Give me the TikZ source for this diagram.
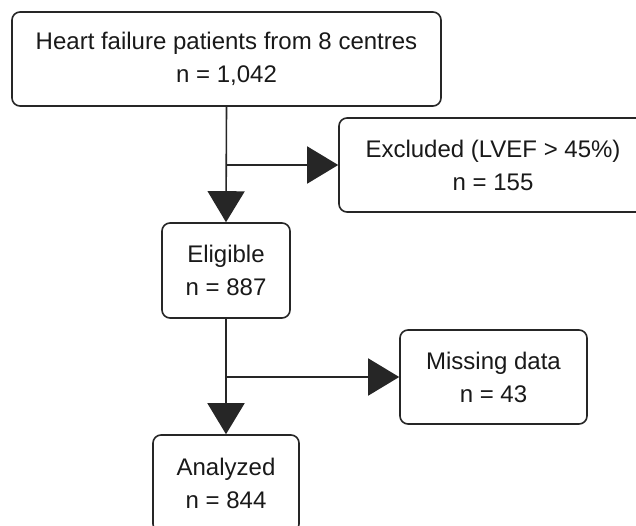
\documentclass[tikz,border=0pt]{standalone}
\usepackage{fontspec}
\setmainfont{Liberation Sans}
\usetikzlibrary{arrows.meta}

\tikzset{
  flowbox/.style={draw=black!85, line width=1.6pt, rounded corners=8pt, fill=white,
    inner sep=0pt, align=center, text=black!90,
    font=\fontsize{24}{33}\selectfont},
  flowarrow/.style={draw=black!85, line width=1.6pt,
    -{Triangle[length=31pt, width=37pt]}},
}

\begin{document}
\begin{tikzpicture}[x=1pt, y=-1pt]
  \useasboundingbox (0,0) rectangle (636,525);
  \clip (0,0) rectangle (636,525);
  \fill[white] (0,0) rectangle (636,525);

  % boxes of the flow chart
  \node[flowbox, minimum width=429pt, minimum height=94pt] (top) at (226.5,59)
    {Heart failure patients from 8 centres\\n = 1,042};
  \node[flowbox, minimum width=308pt, minimum height=94pt] (excl) at (493,165)
    {Excluded (LVEF > 45\%)\\n = 155};
  \node[flowbox, minimum width=128pt, minimum height=95pt] (elig) at (226,270.5)
    {Eligible\\n = 887};
  \node[flowbox, minimum width=187pt, minimum height=94pt] (miss) at (493.5,377)
    {Missing data\\n = 43};
  \node[flowbox, minimum width=146pt, minimum height=97pt] (anal) at (226,483.5)
    {Analyzed\\n = 844};

  % branch points on the main line
  \coordinate (j1) at (226,165);
  \coordinate (j2) at (226,377);

  % connectors
  \draw[flowarrow] (top.south) -- (elig.north);
  \draw[flowarrow] (j1) -- (excl.west);
  \draw[flowarrow] (elig.south) -- (anal.north);
  \draw[flowarrow] (j2) -- (miss.west);
\end{tikzpicture}
\end{document}
